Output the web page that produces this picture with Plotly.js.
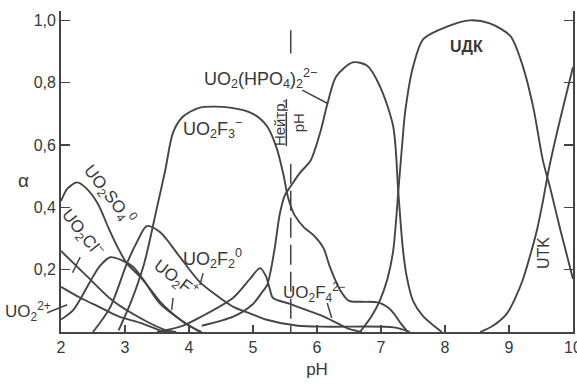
<!DOCTYPE html>
<html>
<head>
<meta charset="utf-8">
<script src="https://cdn.plot.ly/plotly-3.0.1.min.js"></script>
<style>html,body{margin:0;padding:0;background:#fff;}#chart{width:577px;height:384px;}</style>
</head>
<body>
<div id="chart"></div>
<script>
// ---- Data ----
const so4_pH = [2.0, 2.1, 2.25, 2.4, 2.58, 2.75, 2.89, 3.03, 3.27, 3.58, 3.8, 4.0, 4.2];
const so4_a  = [0.42, 0.46, 0.48, 0.46, 0.41, 0.33, 0.27, 0.22, 0.17, 0.09, 0.05, 0.02, 0.0];

const cl_pH = [2.0, 2.4, 2.81, 3.28, 3.65, 3.8];
const cl_a  = [0.26, 0.18, 0.10, 0.04, 0.005, 0.0];

const uo2_pH = [2.0, 2.3, 2.6, 2.9, 3.23, 3.55, 3.7];
const uo2_a  = [0.145, 0.11, 0.08, 0.05, 0.03, 0.005, 0.0];

const f1_pH = [2.0, 2.19, 2.45, 2.6, 2.77, 2.95, 3.12, 3.28, 3.55, 3.86, 4.17];
const f1_a  = [0.04, 0.07, 0.16, 0.21, 0.24, 0.23, 0.21, 0.17, 0.09, 0.04, 0.0];

const f2_pH = [2.5, 2.77, 3.03, 3.19, 3.34, 3.55, 3.86, 4.17, 4.48, 4.7, 4.95, 5.2, 5.7, 6.2, 7.2, 7.45];
const f2_a  = [0.0, 0.08, 0.22, 0.29, 0.34, 0.32, 0.24, 0.16, 0.11, 0.08, 0.06, 0.04, 0.02, 0.017, 0.015, 0.0];

const f3_pH = [2.9, 3.1, 3.3, 3.5, 3.63, 3.75, 3.9, 4.17, 4.64, 5.0, 5.22, 5.37, 5.47, 5.55, 5.65, 5.8, 5.95, 6.1, 6.2, 6.36, 6.5, 6.7, 6.95, 7.1, 7.2, 7.3, 7.42];
const f3_a  = [0.005, 0.1, 0.22, 0.4, 0.52, 0.64, 0.69, 0.72, 0.72, 0.70, 0.66, 0.59, 0.51, 0.43, 0.375, 0.335, 0.31, 0.27, 0.21, 0.135, 0.10, 0.097, 0.095, 0.08, 0.06, 0.03, 0.0];

const f4_pH = [3.5, 3.9, 4.2, 4.69, 4.95, 5.11, 5.2, 5.26, 5.31, 5.58, 5.84, 6.1, 6.3, 6.5, 6.7];
const f4_a  = [0.0, 0.02, 0.05, 0.11, 0.17, 0.205, 0.18, 0.14, 0.11, 0.09, 0.07, 0.05, 0.03, 0.01, 0.0];

const hpo4_pH = [4.2, 4.7, 5.0, 5.15, 5.22, 5.27, 5.34, 5.42, 5.5, 5.58, 5.73, 5.9, 6.05, 6.16, 6.3, 6.56, 6.78, 6.98, 7.19, 7.27, 7.34, 7.4, 7.5, 7.66, 7.95];
const hpo4_a  = [0.02, 0.05, 0.09, 0.13, 0.15, 0.19, 0.27, 0.38, 0.44, 0.465, 0.51, 0.55, 0.64, 0.73, 0.82, 0.865, 0.855, 0.79, 0.66, 0.45, 0.27, 0.18, 0.10, 0.05, 0.0];

const udk_pH = [6.67, 6.85, 6.98, 7.1, 7.19, 7.27, 7.33, 7.38, 7.5, 7.66, 8.03, 8.39, 8.7, 9.02, 9.22, 9.38, 9.53, 9.64, 9.8, 10.0];
const udk_a  = [0.0, 0.05, 0.10, 0.17, 0.26, 0.45, 0.60, 0.71, 0.85, 0.94, 0.98, 1.0, 0.99, 0.95, 0.85, 0.72, 0.55, 0.465, 0.33, 0.17];

const utk_pH = [8.55, 8.75, 8.97, 9.1, 9.22, 9.35, 9.44, 9.53, 9.62, 9.75, 9.88, 10.0];
const utk_a  = [0.0, 0.02, 0.06, 0.11, 0.17, 0.26, 0.33, 0.42, 0.52, 0.64, 0.75, 0.85];

const xTicks = [2, 3, 4, 5, 6, 7, 8, 9, 10];
const xTickText = ['2', '3', '4', '5', '6', '7', '8', '9', '10'];
const yTicks = [0.2, 0.4, 0.6, 0.8, 1.0];
const yTickText = ['0,2', '0,4', '0,6', '0,8', '1,0'];
const neutralPH = 5.59;

// ---- Styles ----
const LC = '#454545';
const TC = '#383838';
const FONT = 'Liberation Sans, Arial, sans-serif';

const series = [
  [so4_pH, so4_a], [cl_pH, cl_a], [uo2_pH, uo2_a], [f1_pH, f1_a], [f2_pH, f2_a],
  [f3_pH, f3_a], [f4_pH, f4_a], [hpo4_pH, hpo4_a], [udk_pH, udk_a], [utk_pH, utk_a]
];

const traces = series.map(s => ({
  x: s[0], y: s[1], type: 'scatter', mode: 'lines',
  line: {color: LC, width: 1.9, shape: 'spline', smoothing: 0.8},
  hoverinfo: 'skip', showlegend: false, cliponaxis: true
}));

function ann(text, x, y, opts) {
  return Object.assign({
    text: text, x: x, y: y, xref: 'x', yref: 'y', showarrow: false,
    font: {family: FONT, size: 17, color: TC}, xanchor: 'center', yanchor: 'middle'
  }, opts || {});
}

const annotations = [
  ann('UO<sub>2</sub>(HPO<sub>4</sub>)<sub>2</sub><sup>2−</sup>', 4.2, 0.814, {xanchor: 'left', font: {family: FONT, size: 18, color: TC}}),
  ann('UO<sub>2</sub>F<sub>3</sub><sup>−</sup>', 3.88, 0.654, {xanchor: 'left', font: {family: FONT, size: 18, color: TC}}),
  ann('<b>UДК</b>', 8.33, 0.917, {font: {family: FONT, size: 16, color: TC}}),
  ann('UTK', 9.53, 0.253, {textangle: -90, font: {family: FONT, size: 16, color: TC}}),
  ann('UO<sub>2</sub>SO<sub>4</sub><sup>0</sup>', 2.75, 0.44, {textangle: 52}),
  ann('UO<sub>2</sub>Cl<sup>−</sup>', 2.33, 0.318, {textangle: 52}),
  ann('UO<sub>2</sub>F<sub>2</sub><sup>0</sup>', 3.87, 0.237, {xanchor: 'left', font: {family: FONT, size: 18, color: TC}}),
  ann('UO<sub>2</sub>F<sup>+</sup>', 3.8, 0.172, {textangle: 37}),
  ann('UO<sub>2</sub>F<sub>4</sub><sup>2−</sup>', 5.43, 0.128, {xanchor: 'left'}),
  ann('<u>Нейтр.</u><br>pH', 5.56, 0.673, {textangle: -90, font: {family: FONT, size: 15, color: TC}}),
  {text: 'UO<sub>2</sub><sup>2+</sup>', x: -0.113, y: 0.067, xref: 'paper', yref: 'y', showarrow: false,
   xanchor: 'left', yanchor: 'middle', font: {family: FONT, size: 17, color: TC}},
  {text: 'α', x: -0.074, y: 0.487, xref: 'paper', yref: 'y', showarrow: false,
   xanchor: 'center', yanchor: 'middle', font: {family: FONT, size: 19, color: TC}}
];

function seg(x0, y0, x1, y1, dash) {
  return {type: 'line', xref: 'x', yref: 'y', x0: x0, y0: y0, x1: x1, y1: y1,
          line: {color: LC, width: 1.5, dash: dash || 'solid'}};
}

const shapes = [
  seg(neutralPH, 0.968, neutralPH, 0.894, 'solid'),
  seg(neutralPH, 0.54, neutralPH, 0.0, '20px,7px'),
  seg(5.77, 0.776, 6.16, 0.734),
  seg(4.22, 0.189, 4.17, 0.151),
  seg(3.75, 0.109, 3.73, 0.071),
  seg(6.16, 0.093, 6.23, 0.045),
  seg(2.3, 0.24, 2.18, 0.19),
  {type: 'line', xref: 'paper', yref: 'paper', x0: -0.027, y0: 0.060, x1: 0.012, y1: 0.085,
   line: {color: LC, width: 1.5}}
];

const layout = {
  width: 577, height: 384,
  margin: {l: 61, r: 4, t: 11, b: 52},
  paper_bgcolor: '#ffffff', plot_bgcolor: '#ffffff',
  showlegend: false,
  font: {family: FONT, color: TC},
  xaxis: {
    range: [2, 10], tickvals: xTicks, ticktext: xTickText,
    ticks: 'inside', ticklen: 7, tickwidth: 1.5, tickcolor: LC,
    showline: true, linecolor: LC, linewidth: 1.9, mirror: false,
    showgrid: false, zeroline: false, ticklabeloverflow: 'allow',
    tickfont: {family: FONT, size: 16, color: TC},
    title: {text: 'pH', font: {family: FONT, size: 17, color: TC}, standoff: 8}
  },
  yaxis: {
    range: [0, 1.03], tickvals: yTicks, ticktext: yTickText,
    ticks: 'inside', ticklen: 9, tickwidth: 1.5, tickcolor: LC,
    showline: true, linecolor: LC, linewidth: 1.9, mirror: 'ticks',
    showgrid: false, zeroline: false,
    tickfont: {family: FONT, size: 16, color: TC}
  },
  annotations: annotations,
  shapes: shapes
};

Plotly.newPlot('chart', traces, layout, {staticPlot: true, displayModeBar: false});
</script>
</body>
</html>
